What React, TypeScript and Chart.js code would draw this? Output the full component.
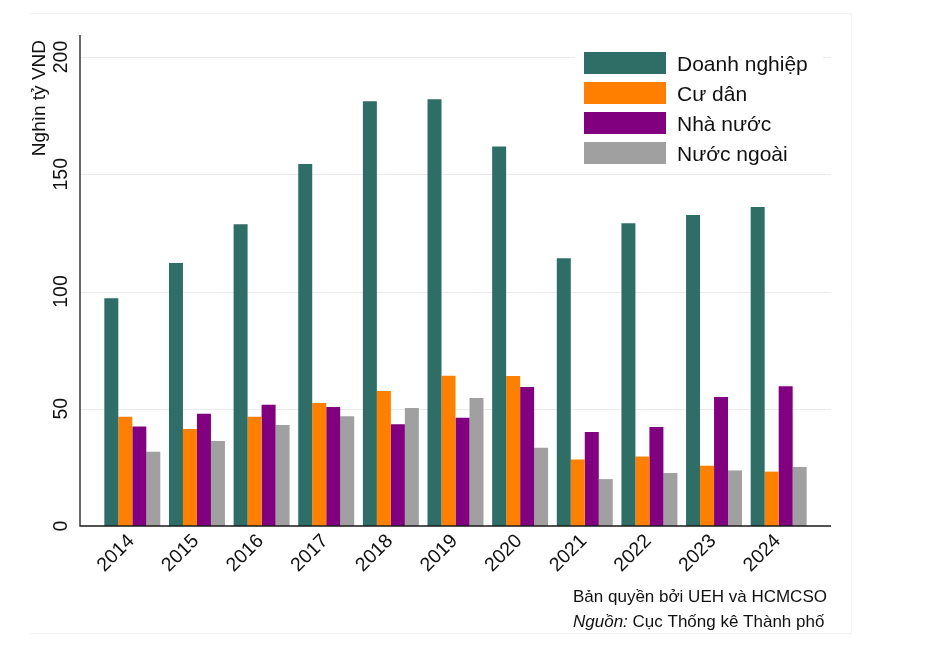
import React, { useEffect, useRef } from "react";
import { Chart, registerables } from "chart.js";

Chart.register(...registerables);

const categories = ["2014", "2015", "2016", "2017", "2018", "2019", "2020", "2021", "2022", "2023", "2024"];
const seriesNames = ["Doanh nghiệp", "Cư dân", "Nhà nước", "Nước ngoài"];
const doanhNghiep = [97.1, 112.2, 128.7, 154.4, 181.1, 182.0, 161.9, 114.2, 129.1, 132.6, 136.0];
const cuDan = [46.6, 41.4, 46.6, 52.5, 57.6, 64.1, 64.0, 28.4, 29.6, 25.7, 23.2];
const nhaNuoc = [42.4, 47.9, 51.7, 50.7, 43.4, 46.2, 59.3, 40.1, 42.2, 55.0, 59.6];
const nuocNgoai = [31.7, 36.2, 43.1, 46.8, 50.3, 54.6, 33.4, 20.0, 22.6, 23.7, 25.2];
const yTicks = [0, 50, 100, 150, 200];
const yTitle = "Nghìn tỷ VND";
const footer1 = "Bản quyền bởi UEH và HCMCSO";
const footer2Italic = "Nguồn:";
const footer2Rest = " Cục Thống kê Thành phố";

const colors = ["#2F6E66", "#FF8000", "#800080", "#A0A0A0"];
const FONT = "'Liberation Sans', Arial, Helvetica, sans-serif";

const customDraw = {
  id: "customDraw",
  beforeDatasetsDraw(chart: any) {
    const ctx = chart.ctx;
    const ca = chart.chartArea;
    const y = chart.scales.y;
    const left = ca.left - 20;
    const right = ca.right + 20;
    ctx.save();
    // faint outer frame
    ctx.strokeStyle = "#f2f2f2";
    ctx.lineWidth = 1;
    ctx.beginPath();
    ctx.moveTo(30, 13.5);
    ctx.lineTo(851.5, 13.5);
    ctx.lineTo(851.5, 633.5);
    ctx.lineTo(30, 633.5);
    ctx.stroke();
    // grid
    ctx.strokeStyle = "#ebebeb";
    ctx.lineWidth = 1.2;
    yTicks.forEach((v) => {
      if (v === 0) return;
      const py = Math.round(y.getPixelForValue(v)) + 0.5;
      ctx.beginPath();
      ctx.moveTo(left, py);
      ctx.lineTo(right, py);
      ctx.stroke();
    });
    ctx.restore();
  },
  afterDatasetsDraw(chart: any) {
    const ctx = chart.ctx;
    const ca = chart.chartArea;
    const x = chart.scales.x;
    const y = chart.scales.y;
    const left = ca.left - 20;
    const right = ca.right + 20;
    const y0 = y.getPixelForValue(0);
    ctx.save();
    // axes
    ctx.strokeStyle = "#1a1a1a";
    ctx.lineWidth = 1.3;
    ctx.beginPath();
    ctx.moveTo(left, ca.top);
    ctx.lineTo(left, y0);
    ctx.lineTo(right, y0);
    ctx.stroke();

    // y tick labels (rotated)
    ctx.fillStyle = "#111";
    ctx.font = `19.5px ${FONT}`;
    ctx.textAlign = "center";
    ctx.textBaseline = "middle";
    yTicks.forEach((v) => {
      const py = y.getPixelForValue(v);
      ctx.save();
      ctx.translate(62, py);
      ctx.rotate(-Math.PI / 2);
      ctx.fillText(String(v), 0, 0);
      ctx.restore();
    });

    // y title
    ctx.save();
    ctx.font = `19px ${FONT}`;
    ctx.translate(40, 40);
    ctx.rotate(-Math.PI / 2);
    ctx.textAlign = "right";
    ctx.textBaseline = "middle";
    ctx.fillText(yTitle, 0, 0);
    ctx.restore();

    // x tick labels (45 deg)
    ctx.font = `19.5px ${FONT}`;
    categories.forEach((c, i) => {
      const px = x.getPixelForTick(i);
      ctx.save();
      ctx.translate(px - 1, y0 + 12);
      ctx.rotate(-Math.PI / 4);
      ctx.textAlign = "right";
      ctx.textBaseline = "middle";
      ctx.fillText(c, 0, 0);
      ctx.restore();
    });

    // legend
    ctx.fillStyle = "#ffffff";
    ctx.fillRect(575, 44, 248, 126);
    ctx.font = `21px ${FONT}`;
    ctx.textAlign = "left";
    ctx.textBaseline = "alphabetic";
    chart.data.datasets.forEach((ds: any, i: number) => {
      const top = 52 + i * 30;
      ctx.fillStyle = ds.backgroundColor;
      ctx.fillRect(584, top, 82, 22);
      ctx.fillStyle = "#111";
      ctx.fillText(ds.label, 677, top + 18.5);
    });

    // footer
    ctx.fillStyle = "#111";
    ctx.font = `17px ${FONT}`;
    ctx.fillText(footer1, 573, 602);
    ctx.font = `italic 17px ${FONT}`;
    ctx.fillText(footer2Italic, 573, 627);
    const w = ctx.measureText(footer2Italic).width;
    ctx.font = `17px ${FONT}`;
    ctx.fillText(footer2Rest, 573 + w, 627);
    ctx.restore();
  },
};

export default function App() {
  const canvasRef = useRef<HTMLCanvasElement | null>(null);

  useEffect(() => {
    const canvas = canvasRef.current;
    if (!canvas) return;
    const series = [doanhNghiep, cuDan, nhaNuoc, nuocNgoai];
    const chart = new Chart(canvas, {
      type: "bar",
      data: {
        labels: categories,
        datasets: series.map((d, i) => ({
          label: seriesNames[i],
          data: d,
          backgroundColor: colors[i],
          borderWidth: 0,
          categoryPercentage: 0.866,
          barPercentage: 1.0,
        })),
      },
      options: {
        responsive: false,
        animation: false,
        devicePixelRatio: 1,
        layout: { padding: { left: 100, right: 128, top: 35, bottom: 133 } },
        scales: {
          x: { display: false, offset: true },
          y: { display: false, min: 0, max: 209.4 },
        },
        plugins: {
          legend: { display: false },
          tooltip: { enabled: false },
        },
      },
      plugins: [customDraw],
    });
    return () => chart.destroy();
  }, []);

  return (
    <div style={{ position: "absolute", left: 0, top: 0, width: 939, height: 659, background: "#fff" }}>
      <canvas ref={canvasRef} width={939} height={659} style={{ display: "block" }} />
    </div>
  );
}
